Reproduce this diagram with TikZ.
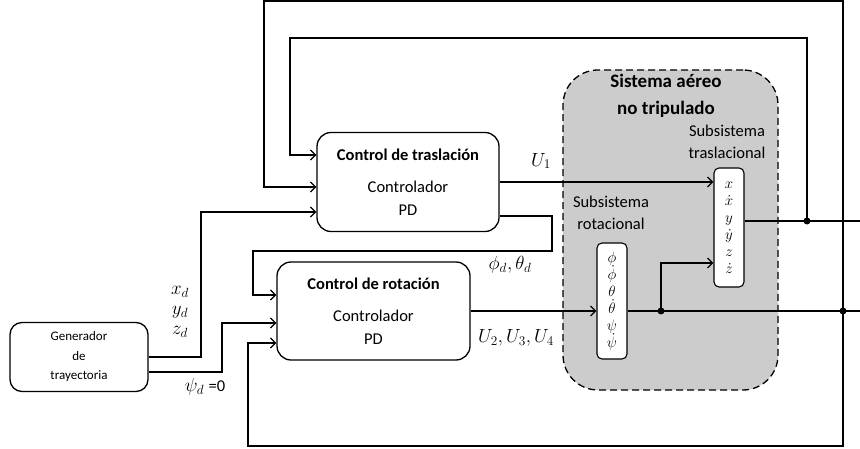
\RequirePackage{fix-cm}
\documentclass[tikz,border=0pt]{standalone}
\usepackage{fontspec}
\setmainfont{Carlito}
\usetikzlibrary{arrows.meta}

\tikzset{
  bloque/.style={draw, line width=1.3pt, rounded corners=14pt, fill=white, align=center, inner sep=0pt},
  estado/.style={draw, line width=1.1pt, rounded corners=5pt, fill=white, align=center, inner sep=0pt, minimum width=30pt, font=\fontsize{15}{17}\selectfont},
  flecha/.style={line width=1.3pt, -{Straight Barb[length=5pt,width=10pt]}},
  linea/.style={line width=1.3pt},
  punto/.style={circle, fill=black, inner sep=0pt, minimum size=7pt},
  etiqueta/.style={font=\fontsize{16.5}{22}\selectfont, align=center},
  mate/.style={font=\fontsize{19}{20}\selectfont, align=center, inner sep=1pt}
}

\begin{document}
\begin{tikzpicture}[x=1pt, y=-1pt]
\useasboundingbox (0,0) rectangle (860,449);

% sistema aereo
\node[draw, dash pattern=on 7pt off 4pt, line width=1.3pt, fill=black!20, rounded corners=35pt, minimum width=215pt, minimum height=320pt] (uav) at (670.5,230) {};
\node[font=\bfseries\fontsize{19}{27}\selectfont, align=center] (titulo) at (666,96) {Sistema aéreo\\no tripulado};
\node[etiqueta] (etras) at (727,142) {Subsistema\\traslacional};
\node[etiqueta] (erot) at (611,213) {Subsistema\\rotacional};

% bloques
\node[bloque, minimum width=182pt, minimum height=99pt, font=\fontsize{16.5}{23}\selectfont] (tras) at (408,182) {\textbf{Control de traslación}\\[9pt]Controlador\\PD};
\node[bloque, minimum width=193pt, minimum height=98pt, font=\fontsize{16.5}{23}\selectfont] (rot) at (373.5,311) {\textbf{Control de rotación}\\[9pt]Controlador\\PD};
\node[bloque, rounded corners=12pt, minimum width=138pt, minimum height=69pt, font=\fontsize{13}{19.5}\selectfont] (gen) at (79,357) {Generador\\de\\trayectoria};
\node[estado, minimum height=119pt] (stras) at (729,227.5) {$x$\\$\dot{x}$\\$y$\\$\dot{y}$\\$z$\\$\dot{z}$};
\node[estado, minimum height=116pt] (srot) at (612,301) {$\phi$\\$\dot{\phi}$\\$\theta$\\$\dot{\theta}$\\$\psi$\\$\dot{\psi}$};

% etiquetas
\node[mate] (eu1) at (541,161) {$U_1$};
\node[mate] (ephi) at (510,265) {$\phi_d,\theta_d$};
\node[mate] (eu2) at (516,338) {$U_2,U_3,U_4$};
\node[mate] (exyz) at (180,312) {$x_d$\\$y_d$\\$z_d$};
\node[mate] (epsi) at (205,387) {$\psi_d$ \fontsize{16.5}{20}\selectfont=0};

% puntos de paso
\coordinate (j1) at (661,311);
\coordinate (j2) at (843,311);
\coordinate (j3) at (807,221);
\coordinate (salrot) at (860,311);
\coordinate (saltras) at (860,221);
\coordinate (lazoA) at (264,1);
\coordinate (lazoB) at (290,38);
\coordinate (lazoC) at (248,446);
\coordinate (dxyz) at (201,212);
\coordinate (dpsi) at (222,323);
\coordinate (dphiA) at (552,251);
\coordinate (dphiB) at (253,295);
\coordinate (dz) at (661,263);

% conexiones
\draw[flecha] (gen.east) -| (dxyz) -- (dxyz -| tras.west);
\draw[flecha] ([yshift=-15pt]gen.east) -| (dpsi) -- (dpsi -| rot.west);
\draw[flecha] ([yshift=-34pt]tras.east) -| (dphiA) -| (dphiB) -- (dphiB -| rot.west);
\draw[flecha] (tras.east) -- (tras.east -| stras.west);
\draw[flecha] (rot.east) -- (rot.east -| srot.west);
\draw[linea] (srot.east |- j1) -- (salrot);
\draw[linea] (stras.east |- j3) -- (saltras);
\draw[flecha] (j1) -- (dz) -- (dz -| stras.west);
\draw[flecha] (j3) |- (lazoB) |- ([yshift=27pt]tras.west);
\draw[flecha] (j2) |- (lazoA) |- ([yshift=-5pt]tras.west);
\draw[flecha] (j2) |- (lazoC) |- ([yshift=-32pt]rot.west);

\node[punto] (p1) at (j1) {};
\node[punto] (p2) at (j2) {};
\node[punto] (p3) at (j3) {};
\end{tikzpicture}
\end{document}
